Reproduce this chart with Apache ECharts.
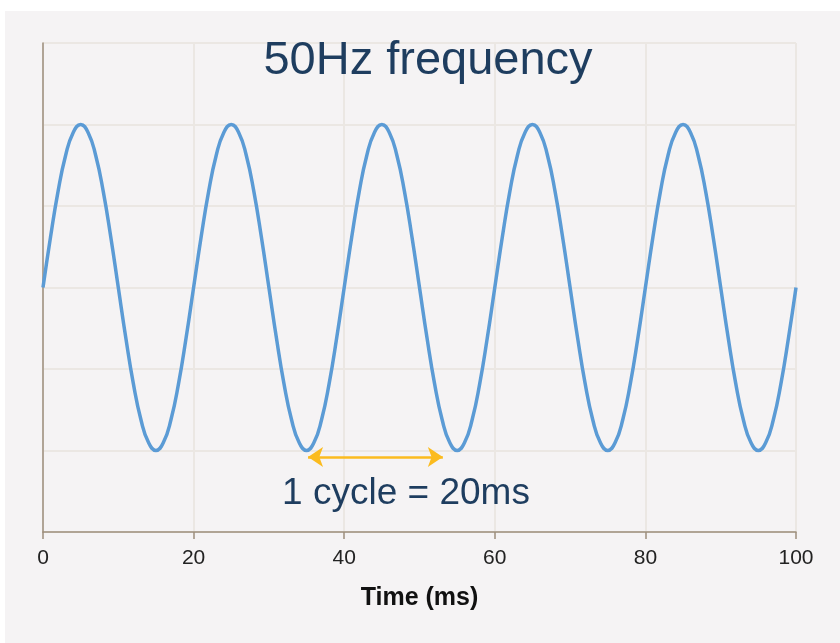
<!DOCTYPE html>
<html><head><meta charset="utf-8">
<script src="https://cdn.jsdelivr.net/npm/echarts@6/dist/echarts.min.js"></script>
<style>html,body{margin:0;padding:0;background:#fff}#c{width:840px;height:643px}</style>
</head><body><div id="c"></div>
<script>
// time in ms, one sample per ms
const times = [];
for (let i = 0; i <= 100; i++) times.push(i);
// waveform values (peak +1, trough -1, 20 ms period)
const voltage = [0, 0.31, 0.59, 0.81, 0.95, 1, 0.95, 0.81, 0.59, 0.31, 0, -0.31, -0.59, -0.81, -0.95, -1, -0.95, -0.81, -0.59, -0.31,
  0, 0.31, 0.59, 0.81, 0.95, 1, 0.95, 0.81, 0.59, 0.31, 0, -0.31, -0.59, -0.81, -0.95, -1, -0.95, -0.81, -0.59, -0.31,
  0, 0.31, 0.59, 0.81, 0.95, 1, 0.95, 0.81, 0.59, 0.31, 0, -0.31, -0.59, -0.81, -0.95, -1, -0.95, -0.81, -0.59, -0.31,
  0, 0.31, 0.59, 0.81, 0.95, 1, 0.95, 0.81, 0.59, 0.31, 0, -0.31, -0.59, -0.81, -0.95, -1, -0.95, -0.81, -0.59, -0.31,
  0, 0.31, 0.59, 0.81, 0.95, 1, 0.95, 0.81, 0.59, 0.31, 0, -0.31, -0.59, -0.81, -0.95, -1, -0.95, -0.81, -0.59, -0.31,
  0];
const arrowX = [35.2, 53.1];
const arrowY = [-1.04, -1.04];
const titleText = '50Hz frequency';
const noteText = '1 cycle = 20ms';
const xName = 'Time (ms)';

const chart = echarts.init(document.getElementById('c'));
chart.setOption({
  backgroundColor: '#fff',
  graphic: [
    {type:'rect', shape:{x:5,y:11,width:835,height:632}, style:{fill:'#f5f3f4'}, z:-10, silent:true},
    {type:'text', x:428, y:61, z:10, silent:true,
     style:{text:titleText, fontFamily:'Liberation Sans', fontSize:47, fill:'#1e3d5f', align:'center', verticalAlign:'middle'}},
    {type:'text', x:406, y:494, z:10, silent:true,
     style:{text:noteText, fontFamily:'Liberation Sans', fontSize:37, fill:'#1e3d5f', align:'center', verticalAlign:'middle'}}
  ],
  grid: {left:43, right:44, top:43, bottom:111, show:false},
  xAxis: {
    type:'value', min:0, max:100, interval:20,
    name: xName, nameLocation:'middle', nameGap:54,
    nameTextStyle:{fontFamily:'Liberation Sans', fontSize:25, fontWeight:'bold', color:'#111'},
    axisLine:{show:true, onZero:false, lineStyle:{color:'#9d8e7c', width:1.5}},
    axisTick:{show:true, length:7, lineStyle:{color:'#9d8e7c', width:1.5}},
    axisLabel:{fontFamily:'Liberation Sans', fontSize:21, color:'#222', margin:16},
    splitLine:{show:true, lineStyle:{color:'#ebe7e3', width:2}}
  },
  yAxis: {
    type:'value', min:-1.5, max:1.5, interval:0.5,
    axisLine:{show:true, onZero:false, lineStyle:{color:'#9d8e7c', width:1.5}},
    axisTick:{show:false}, axisLabel:{show:false},
    splitLine:{show:true, lineStyle:{color:'#ebe7e3', width:2}}
  },
  series: [{
    type:'line', data: times.map((t,i)=>[t, voltage[i]]), smooth:true, showSymbol:false,
    lineStyle:{color:'#5b9bd5', width:3.5}, animation:false,
    markLine:{
      silent:true, symbol:['arrow','arrow'], symbolSize:[15,15], animation:false,
      label:{show:false},
      lineStyle:{color:'#fbbb1e', width:2.5, type:'solid'},
      data:[[{coord:[arrowX[0], arrowY[0]]},{coord:[arrowX[1], arrowY[1]]}]]
    }
  }],
  animation:false
});
</script></body></html>
